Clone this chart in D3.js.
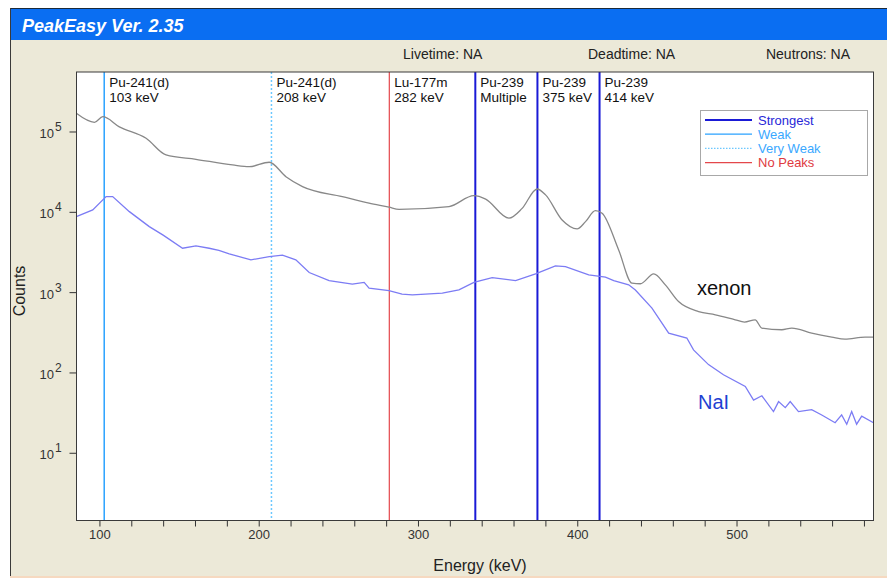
<!DOCTYPE html>
<html>
<head>
<meta charset="utf-8">
<script src="https://cdn.jsdelivr.net/npm/d3@7"></script>
<style>
  body { margin: 0; background: #fff; }
  svg { display: block; font-family: "Liberation Sans", Arial, sans-serif; }
</style>
</head>
<body>
<svg width="887" height="578"></svg>
<script>
// spectra (energy in keV, counts)
const xenonEnergy = [85.5, 96.9, 102.1, 112.5, 129.3, 141.8, 160.6, 183.6, 194, 206.6, 217.1, 227.5, 252.5, 269.3,
  281.8, 288.1, 319.5, 335.1, 342.5, 357.1, 365.4, 374.8, 380.1, 390.5, 399.9, 405.2, 411.4, 415.6, 426, 434.4,
  439.6, 448, 455.3, 463.6, 476.2, 486.7, 499.2, 505, 511.7, 515.9, 528.4, 534.7, 547.2, 559.8, 568.1, 580.7, 586];
const xenonCounts = [171000, 132000, 155000, 116000, 83500, 51800, 45700, 38900, 37000, 42000, 27800, 20900, 15700, 13000,
  11600, 10900, 11800, 16100, 14600, 8460, 11200, 19500, 16500, 8030, 6220, 7660, 10500, 9740, 3400, 1310,
  1290, 1710, 1250, 775, 582, 530, 459, 430, 459, 362, 345, 362, 313, 280, 264, 280, 280];

const naiEnergy = [85.5, 95.8, 104.2, 108.3, 118.8, 131.3, 140, 152.2, 160.6, 168.9, 175, 181.5, 195.1, 206.6, 214.9,
  223.3, 231.7, 244.2, 258.8, 266.2, 269.3, 281.8, 290, 296.5, 315.3, 325.7, 335.1, 346.6, 361.3, 373.8, 386.3,
  392.6, 407.2, 417.7, 422.9, 432.3, 436.5, 446.9, 457.4, 468.8, 473, 482.4, 491.8, 505.5, 510.7, 515.9, 523.2,
  526.4, 530.6, 533.7, 538.9, 547.2, 553.5, 561.9, 566, 569.2, 572.3, 575.4, 578.6, 586];
const naiCounts = [8850, 10700, 15700, 15700, 10200, 6640, 5200, 3570, 3820, 3570, 3350, 3040, 2560, 2810, 2930,
  2560, 1780, 1410, 1280, 1340, 1140, 1060, 960, 940, 986, 1080, 1340, 1540, 1410, 1710, 2150,
  2110, 1660, 1560, 1410, 1250, 1080, 641, 313, 272, 194, 127, 95, 68, 46, 52, 33,
  44, 37, 44, 33, 35, 30, 24, 30, 23, 33, 23, 29, 24];

// identified peaks
const peakEnergy = [103, 208, 282, 336, 375, 414];
const peakNuclide = ['Pu-241(d)', 'Pu-241(d)', 'Lu-177m', 'Pu-239', 'Pu-239', 'Pu-239'];
const peakNote = ['103 keV', '208 keV', '282 keV', 'Multiple', '375 keV', '414 keV'];
const peakKind = ['Weak', 'Very Weak', 'No Peaks', 'Strongest', 'Strongest', 'Strongest'];

const legendKinds = ['Strongest', 'Weak', 'Very Weak', 'No Peaks'];
const energyTicks = [100, 120, 140, 160, 180, 200, 220, 240, 260, 280, 300, 320, 340, 360, 380, 400,
  420, 440, 460, 480, 500, 520, 540, 560, 580];
const countDecades = [1, 2, 3, 4, 5];
const infoLabels = ['Livetime: NA', 'Deadtime: NA', 'Neutrons: NA'];

const kindStyle = {
  'Strongest': { color: '#1a1ad6', width: 2, dash: null, text: '#2727d8' },
  'Weak': { color: '#2aa2ff', width: 1.5, dash: null, text: '#3aa8ff' },
  'Very Weak': { color: '#6cc8ff', width: 1.5, dash: '2,2', text: '#3aa8ff' },
  'No Peaks': { color: '#e4474b', width: 1.2, dash: null, text: '#e03a3f' }
};

const svg = d3.select('svg');
const plot = { left: 76.5, right: 873.5, top: 72, bottom: 520.5 };

// window frame
svg.append('rect')
    .attr('x', 10).attr('y', 8).attr('width', 877).attr('height', 569)
    .attr('fill', '#ece9d8');
svg.append('rect')
    .attr('x', 10).attr('y', 9).attr('width', 877).attr('height', 31)
    .attr('fill', '#0a6ef2');
svg.append('line')
    .attr('x1', 10).attr('x2', 887).attr('y1', 8.5).attr('y2', 8.5)
    .attr('stroke', '#1b2a3a');
svg.append('line')
    .attr('x1', 10.5).attr('x2', 10.5).attr('y1', 8).attr('y2', 577)
    .attr('stroke', '#3a3a3a');
svg.append('line')
    .attr('x1', 10).attr('x2', 887).attr('y1', 577).attr('y2', 577)
    .attr('stroke', '#f6d9c0').attr('stroke-width', 2);

svg.append('text')
    .attr('x', 22).attr('y', 32)
    .attr('fill', '#fff')
    .attr('font-size', 18).attr('font-weight', 'bold').attr('font-style', 'italic')
    .text('PeakEasy Ver. 2.35');

const infoX = [403, 588, 850];
svg.selectAll('.info')
  .data(infoLabels)
  .enter()
  .append('text')
    .classed('info', true)
    .attr('x', (d, i) => infoX[i])
    .attr('y', 59)
    .attr('text-anchor', (d, i) => i === 2 ? 'end' : 'start')
    .attr('font-size', 14)
    .attr('fill', '#222')
    .text((d) => d);

const x = d3.scaleLinear()
            .domain([85.6, 586])
            .range([plot.left, plot.right]);

const y = d3.scaleLog()
            .domain([Math.pow(10, 0.163), Math.pow(10, 5.747)])
            .range([plot.bottom, plot.top]);

svg.append('rect')
    .attr('x', plot.left).attr('y', plot.top)
    .attr('width', plot.right - plot.left).attr('height', plot.bottom - plot.top)
    .attr('fill', '#fff');

svg.append('clipPath')
    .attr('id', 'clip')
  .append('rect')
    .attr('x', plot.left).attr('y', plot.top)
    .attr('width', plot.right - plot.left).attr('height', plot.bottom - plot.top);

const inner = svg.append('g').attr('clip-path', 'url(#clip)');

// peak marker lines
inner.selectAll('.peak')
  .data(peakEnergy)
  .enter()
  .append('line')
    .classed('peak', true)
    .attr('x1', (d) => x(d)).attr('x2', (d) => x(d))
    .attr('y1', plot.top).attr('y2', plot.bottom)
    .attr('stroke', (d, i) => kindStyle[peakKind[i]].color)
    .attr('stroke-width', (d, i) => kindStyle[peakKind[i]].width)
    .attr('stroke-dasharray', (d, i) => kindStyle[peakKind[i]].dash);

const peakLabels = svg.selectAll('.peak-label')
  .data(peakEnergy)
  .enter()
  .append('text')
    .classed('peak-label', true)
    .attr('font-size', 13.5)
    .attr('fill', '#111');
peakLabels.append('tspan')
    .attr('x', (d) => x(d) + 5).attr('y', 87)
    .text((d, i) => peakNuclide[i]);
peakLabels.append('tspan')
    .attr('x', (d) => x(d) + 5).attr('y', 102)
    .text((d, i) => peakNote[i]);

// spectra
const line = d3.line()
               .x((d) => x(d[0]))
               .y((d) => y(d[1]))
               .curve(d3.curveMonotoneX);

inner.append('path')
    .datum(xenonEnergy.map((e, i) => [e, xenonCounts[i]]))
    .attr('d', line)
    .attr('fill', 'none')
    .attr('stroke', '#888')
    .attr('stroke-width', 1.3);

inner.append('path')
    .datum(naiEnergy.map((e, i) => [e, naiCounts[i]]))
    .attr('d', line.curve(d3.curveLinear))
    .attr('fill', 'none')
    .attr('stroke', '#7c7cf4')
    .attr('stroke-width', 1.3);

svg.append('text')
    .attr('x', 697).attr('y', 295)
    .attr('font-size', 20).attr('fill', '#111')
    .text('xenon');
svg.append('text')
    .attr('x', 698).attr('y', 409)
    .attr('font-size', 20).attr('fill', '#1f3fd2')
    .text('NaI');

// legend
svg.append('rect')
    .attr('x', 700.5).attr('y', 110.5).attr('width', 167).attr('height', 65)
    .attr('fill', '#fff').attr('stroke', '#a8a8a8');

const legend = svg.selectAll('.legend')
  .data(legendKinds)
  .enter()
  .append('g')
    .classed('legend', true)
    .attr('transform', (d, i) => `translate(0, ${120 + i * 14.2})`);
legend.append('line')
    .attr('x1', 705).attr('x2', 752)
    .attr('stroke', (d) => kindStyle[d].color)
    .attr('stroke-width', (d) => d === 'Strongest' ? 2 : 1.3)
    .attr('stroke-dasharray', (d) => d === 'Very Weak' ? '1.5,1.5' : null);
legend.append('text')
    .attr('x', 758).attr('y', 4.5)
    .attr('font-size', 13)
    .attr('fill', (d) => kindStyle[d].text)
    .text((d) => d);

// axes
const xAxis = d3.axisBottom(x)
                .tickValues(energyTicks)
                .tickSize(6)
                .tickPadding(3)
                .tickFormat((d) => d % 100 === 0 ? d : '');

const gx = svg.append('g')
    .attr('transform', `translate(0, ${plot.bottom})`)
    .call(xAxis);
gx.select('.domain').remove();
gx.selectAll('.tick line').attr('stroke', '#333');
gx.selectAll('.tick text')
    .attr('font-size', 13)
    .attr('font-family', '"Liberation Sans", Arial, sans-serif')
    .attr('fill', '#333');

const gy = svg.append('g');
const yTicks = gy.selectAll('.ytick')
  .data(countDecades)
  .enter()
  .append('g')
    .classed('ytick', true)
    .attr('transform', (d) => `translate(0, ${y(Math.pow(10, d))})`);
yTicks.append('line')
    .attr('x1', plot.left - 7).attr('x2', plot.left)
    .attr('stroke', '#333');
yTicks.append('text')
    .attr('x', 54).attr('y', 6)
    .attr('text-anchor', 'end')
    .attr('font-size', 13).attr('fill', '#333')
    .text('10');
yTicks.append('text')
    .attr('x', 55).attr('y', -1)
    .attr('font-size', 12).attr('fill', '#333')
    .text((d) => d);

svg.append('rect')
    .attr('x', plot.left).attr('y', plot.top)
    .attr('width', plot.right - plot.left).attr('height', plot.bottom - plot.top)
    .attr('fill', 'none')
    .attr('stroke', '#3a3a3a');

svg.append('text')
    .attr('x', 480).attr('y', 571)
    .attr('text-anchor', 'middle')
    .attr('font-size', 16).attr('fill', '#222')
    .text('Energy (keV)');

svg.append('text')
    .attr('transform', 'translate(25, 291) rotate(-90)')
    .attr('text-anchor', 'middle')
    .attr('font-size', 16).attr('fill', '#222')
    .text('Counts');
</script>
</body>
</html>
